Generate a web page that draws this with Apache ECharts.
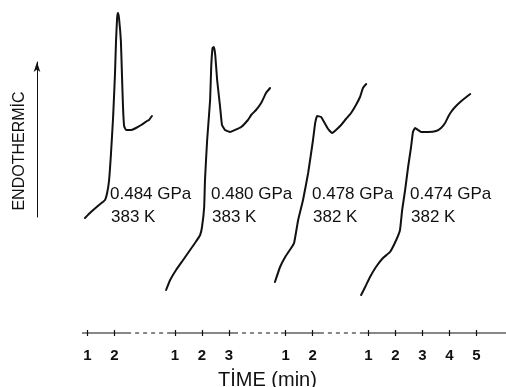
<!DOCTYPE html>
<html>
<head>
<meta charset="utf-8">
<script src="https://cdn.jsdelivr.net/npm/echarts@6/dist/echarts.min.js"></script>
<style>
  html, body { margin: 0; padding: 0; background: #fff; }
  #chart { width: 506px; height: 387px; }
</style>
</head>
<body>
<div id="chart"></div>
<script>
// DSC traces, time in minutes of each run, signal in arbitrary units (endothermic up)
const t484 = [0.91, 1.13, 1.43, 1.65, 1.73, 1.80, 1.87, 1.95, 2.02, 2.06, 2.10, 2.13, 2.17, 2.24, 2.28, 2.32, 2.36, 2.43, 2.62, 2.80, 2.99, 3.10, 3.21, 3.28, 3.39];
const q484 = [82, 88, 95, 100, 107, 119, 145, 182, 225, 259, 282, 287, 282, 259, 225, 192, 174, 170, 170, 172, 175, 177, 179, 180, 184];

const t480 = [0.67, 0.82, 1.04, 1.30, 1.48, 1.74, 1.93, 2.00, 2.08, 2.11, 2.19, 2.30, 2.34, 2.39, 2.44, 2.49, 2.56, 2.67, 2.74, 2.85, 3.04, 3.22, 3.45, 3.70, 3.82, 4.00, 4.19, 4.37, 4.52];
const q480 = [10, 20, 30, 40, 47, 57, 65, 73, 93, 120, 160, 200, 233, 252, 253, 245, 220, 193, 175, 170, 168, 170, 173, 180, 185, 190, 197, 207, 212];

const t478 = [0.60, 0.79, 0.98, 1.20, 1.31, 1.46, 1.64, 1.83, 2.01, 2.09, 2.16, 2.31, 2.42, 2.57, 2.72, 2.86, 3.05, 3.23, 3.42, 3.60, 3.75, 3.86, 3.98];
const q478 = [18, 33, 43, 52, 57, 80, 100, 127, 160, 177, 184, 183, 178, 171, 167, 170, 175, 181, 187, 195, 203, 212, 216];

const t474 = [0.73, 0.88, 1.06, 1.28, 1.54, 1.80, 2.03, 2.17, 2.25, 2.36, 2.47, 2.58, 2.65, 2.73, 2.84, 2.95, 3.21, 3.51, 3.69, 3.84, 3.95, 4.06, 4.21, 4.40, 4.58, 4.77];
const q474 = [5, 13, 23, 33, 42, 48, 60, 70, 90, 110, 133, 153, 168, 172, 170, 168, 168, 169, 172, 177, 183, 188, 193, 198, 202, 206];

const pressures = ["0.484 GPa", "0.480 GPa", "0.478 GPa", "0.474 GPa"];
const temps = ["383 K", "383 K", "382 K", "382 K"];

// where each run's time scale starts on the common time line, and its tick labels
const runOffsets = [0, 3.244, 7.344, 10.405];
const runTicks = [[1, 2], [1, 2, 3], [1, 2], [1, 2, 3, 4, 5]];
// dashed stretches of the time line between the runs
const axisGaps = [[2.47, 4.06], [6.43, 8.17], [9.61, 11.21]];
const timeMin = 0.8;
const timeMax = 16.5;

const runs = [[t484, q484], [t480, q480], [t478, q478], [t474, q474]];

const tickValues = [];
const tickLabels = {};
runTicks.forEach((ticks, i) => {
  ticks.forEach((t) => {
    const v = runOffsets[i] + t;
    tickValues.push(v);
    tickLabels[v.toFixed(3)] = String(t);
  });
});

// solid and dashed pieces of the time line
const solidLine = [];
const dashedLine = [];
let start = timeMin;
axisGaps.forEach((g) => {
  solidLine.push([start, 1], [g[0], 1], [g[0], null]);
  dashedLine.push([g[0], 1], [g[1], 1], [g[1], null]);
  start = g[1];
});
solidLine.push([start, 1], [timeMax, 1]);

const chart = echarts.init(document.getElementById("chart"));

const curveSeries = runs.map((r, i) => ({
  name: pressures[i],
  type: "line",
  xAxisIndex: 0,
  yAxisIndex: 0,
  data: r[0].map((t, k) => [runOffsets[i] + t, r[1][k]]),
  showSymbol: false,
  smooth: 0.12,
  lineStyle: { color: "#111", width: 2, join: "round", cap: "round" },
  silent: true,
}));

const textFont = "Liberation Sans, Arial, sans-serif";
const labelX = [110, 211, 312, 410];
const labelTexts = [];
labelX.forEach((x, i) => {
  labelTexts.push({
    type: "text",
    left: x,
    top: 186,
    style: { text: pressures[i], font: "17px " + textFont, fill: "#111" },
  });
  labelTexts.push({
    type: "text",
    left: x + 1,
    top: 209,
    style: { text: temps[i], font: "17px " + textFont, fill: "#111" },
  });
});
labelTexts.push({
  type: "text",
  left: 218,
  top: 370,
  style: { text: "TİME (min)", font: "20px " + textFont, fill: "#111" },
});
labelTexts.push({
  type: "text",
  x: 20,
  y: 151,
  rotation: Math.PI / 2,
  style: {
    text: "ENDOTHERMİC",
    font: "16px " + textFont,
    fill: "#111",
    align: "center",
    verticalAlign: "middle",
  },
});

const option = {
  animation: false,
  backgroundColor: "#fff",
  grid: [
    { left: 82, right: 0, top: 0, height: 300 },
    { left: 82, right: 0, top: 330, height: 6 },
    { left: 37, width: 10, top: 62, height: 155 },
  ],
  xAxis: [
    { type: "value", gridIndex: 0, min: timeMin, max: timeMax, show: false },
    {
      type: "value",
      gridIndex: 1,
      min: timeMin,
      max: timeMax,
      axisLine: { show: false },
      splitLine: { show: false },
      axisTick: {
        show: true,
        inside: true,
        length: 6,
        customValues: tickValues,
        lineStyle: { color: "#111", width: 1.2 },
      },
      axisLabel: {
        customValues: tickValues,
        margin: 12,
        color: "#111",
        fontSize: 15,
        fontWeight: "bold",
        fontFamily: textFont,
        formatter: (v) => tickLabels[v.toFixed(3)] || "",
      },
    },
    { type: "value", gridIndex: 2, show: false },
  ],
  yAxis: [
    { type: "value", gridIndex: 0, min: 0, max: 300, show: false },
    { type: "value", gridIndex: 1, min: 0, max: 2, show: false },
    {
      type: "value",
      gridIndex: 2,
      axisLine: {
        show: true,
        symbol: ["none", "arrow"],
        symbolSize: [5, 10],
        lineStyle: { color: "#111", width: 1 },
      },
      axisTick: { show: false },
      axisLabel: { show: false },
      splitLine: { show: false },
    },
  ],
  series: curveSeries.concat([
    {
      type: "line",
      xAxisIndex: 1,
      yAxisIndex: 1,
      data: solidLine,
      showSymbol: false,
      connectNulls: false,
      lineStyle: { color: "#111", width: 1.2 },
      silent: true,
    },
    {
      type: "line",
      xAxisIndex: 1,
      yAxisIndex: 1,
      data: dashedLine,
      showSymbol: false,
      connectNulls: false,
      lineStyle: { color: "#111", width: 1, type: [4, 4] },
      silent: true,
    },
  ]),
  graphic: labelTexts,
};

chart.setOption(option);
</script>
</body>
</html>
